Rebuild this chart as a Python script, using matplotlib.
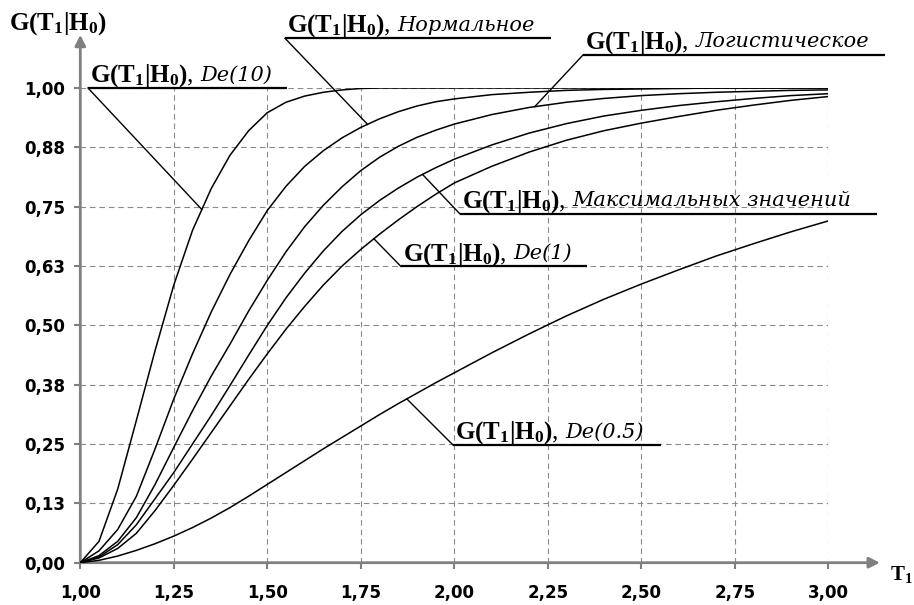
import numpy as np
import matplotlib
matplotlib.use("Agg")
import matplotlib.pyplot as plt

plt.rcParams['mathtext.fontset'] = 'custom'
plt.rcParams['mathtext.rm'] = 'Liberation Serif'
plt.rcParams['mathtext.bf'] = 'Liberation Serif:bold'
plt.rcParams['mathtext.it'] = 'Liberation Serif:italic'

# ---------------- data ----------------
T1 = [1.00, 1.05, 1.10, 1.15, 1.20, 1.25, 1.30, 1.35, 1.40, 1.45, 1.50,
      1.55, 1.60, 1.65, 1.70, 1.75, 1.80, 1.85, 1.90, 1.95, 2.00,
      2.10, 2.20, 2.30, 2.40, 2.50, 2.60, 2.70, 2.80, 2.90, 3.00]

G_de10 = [0, 0.045, 0.155, 0.300, 0.447, 0.585, 0.700, 0.788, 0.858, 0.910, 0.948,
          0.970, 0.983, 0.991, 0.996, 0.999, 1.000, 1.000, 1.000, 1.000, 1.000,
          1.000, 1.000, 1.000, 1.000, 1.000, 1.000, 1.000, 1.000, 1.000, 1.000]
G_norm = [0, 0.025, 0.070, 0.140, 0.240, 0.345, 0.440, 0.528, 0.607, 0.678, 0.742,
          0.793, 0.835, 0.868, 0.895, 0.917, 0.935, 0.950, 0.962, 0.971, 0.977,
          0.986, 0.991, 0.995, 0.997, 0.998, 0.999, 1.000, 1.000, 1.000, 1.000]
G_logis = [0, 0.015, 0.045, 0.095, 0.165, 0.243, 0.320, 0.393, 0.460, 0.530, 0.595,
           0.655, 0.708, 0.753, 0.792, 0.826, 0.854, 0.877, 0.896, 0.911, 0.924,
           0.944, 0.959, 0.970, 0.978, 0.984, 0.988, 0.991, 0.993, 0.995, 0.996]
G_max = [0, 0.012, 0.038, 0.080, 0.135, 0.190, 0.250, 0.310, 0.373, 0.437, 0.500,
         0.558, 0.610, 0.657, 0.698, 0.733, 0.763, 0.789, 0.812, 0.832, 0.850,
         0.880, 0.905, 0.925, 0.941, 0.953, 0.963, 0.971, 0.978, 0.984, 0.988]
G_de1 = [0, 0.010, 0.030, 0.062, 0.110, 0.163, 0.218, 0.274, 0.330, 0.386, 0.440,
         0.492, 0.540, 0.585, 0.625, 0.660, 0.692, 0.722, 0.750, 0.776, 0.800,
         0.835, 0.865, 0.890, 0.910, 0.926, 0.940, 0.953, 0.964, 0.974, 0.982]
G_de05 = [0, 0.005, 0.014, 0.026, 0.040, 0.056, 0.074, 0.094, 0.116, 0.140, 0.165,
          0.190, 0.215, 0.240, 0.264, 0.288, 0.312, 0.335, 0.357, 0.379, 0.400,
          0.442, 0.482, 0.520, 0.555, 0.587, 0.617, 0.646, 0.672, 0.697, 0.720]

x_ticks = [1.00, 1.25, 1.50, 1.75, 2.00, 2.25, 2.50, 2.75, 3.00]
x_tick_labels = ["1,00", "1,25", "1,50", "1,75", "2,00", "2,25", "2,50", "2,75", "3,00"]
y_ticks = [0.0, 0.125, 0.25, 0.375, 0.5, 0.625, 0.75, 0.875, 1.0]
y_tick_labels = ["0,00", "0,13", "0,25", "0,38", "0,50", "0,63", "0,75", "0,88", "1,00"]

label_head = r"$\mathbf{G(T_1|H_0)}$,"
names = ["De(10)", "Нормальное", "Логистическое", "Максимальных значений", "De(1)", "De(0.5)"]

# ---------------- figure ----------------
W, H = 914, 605
fig = plt.figure(figsize=(W / 100, H / 100), dpi=100)
ax = fig.add_axes([80.3 / W, 1 - 562.7 / H, 748 / W, 474.7 / H])
ax.set_xlim(1.0, 3.0)
ax.set_ylim(0.0, 1.0)

gray = '#808080'
for s in ax.spines.values():
    s.set_visible(False)

ax.set_xticks(x_ticks)
ax.set_xticklabels(x_tick_labels)
ax.set_yticks(y_ticks)
ax.set_yticklabels(y_tick_labels)
ax.tick_params(axis='both', colors=gray, width=1.5, length=4, labelcolor='black')
ax.tick_params(axis='x', pad=11)
ax.tick_params(axis='y', pad=7)
for lab in ax.get_xticklabels() + ax.get_yticklabels():
    lab.set_fontfamily('DejaVu Sans')
    lab.set_fontweight('bold')
    lab.set_fontsize(12)

ax.grid(True, color='#8a8a8a', linestyle=(0, (5, 3.5)), linewidth=0.8)
ax.set_axisbelow(True)

# axes with arrows
ax.annotate('', xy=(1.0, 1.112), xytext=(1.0, 0.0),
            arrowprops=dict(arrowstyle='-|>', color=gray, lw=2, mutation_scale=16,
                            shrinkA=0, shrinkB=0), annotation_clip=False)
ax.annotate('', xy=(3.138, 0.0), xytext=(1.0, 0.0),
            arrowprops=dict(arrowstyle='-|>', color=gray, lw=2, mutation_scale=16,
                            shrinkA=0, shrinkB=0), annotation_clip=False)

curves = [G_de10, G_norm, G_logis, G_max, G_de1, G_de05]
for c in curves:
    ax.plot(T1, c, color='black', lw=1.1, zorder=3, solid_joinstyle='round')

# ---------------- callouts ----------------
# (underline x0, x1, y, touch x on curve)
callouts = [
    (1.0206, 1.5527, 1.0000, 1.325, G_de10),
    (1.5473, 2.2586, 1.1047, 1.768, G_norm),
    (2.3441, 3.1516, 1.0695, 2.215, G_logis),
    (2.0152, 3.1302, 0.7346, 1.915, G_max),
    (1.8575, 2.3548, 0.6240, 1.785, G_de1),
    (1.9965, 2.5527, 0.2480, 1.873, G_de05),
]
for (x0, x1, y0, xt, c), name in zip(callouts, names):
    yt = np.interp(xt, T1, c)
    ax.plot([xt, x0], [yt, y0], color='black', lw=1.0, clip_on=False, zorder=4)
    ax.plot([x0, x1], [y0, y0], color='black', lw=1.6, clip_on=False, zorder=4,
            solid_capstyle='butt')
    t1 = ax.annotate(label_head, xy=(x0, y0), xytext=(1.5, 4.5), textcoords='offset points',
                     ha='left', va='baseline', fontsize=18, family='Liberation Serif',
                     annotation_clip=False)
    ax.annotate(name, xy=(1, y0), xycoords=(t1, 'data'), xytext=(5, 5.5),
                textcoords='offset points', ha='left', va='baseline', fontsize=15,
                family='DejaVu Serif', style='italic', annotation_clip=False)

# axis titles
fig.text(9 / W, 1 - 30 / H, r"$\mathbf{G(T_1|H_0)}$", fontsize=18, ha='left', va='baseline')
fig.text(890 / W, 1 - 580 / H, r"$\mathbf{T_1}$", fontsize=15, ha='left', va='baseline')

fig.savefig('out.png', dpi=100)
